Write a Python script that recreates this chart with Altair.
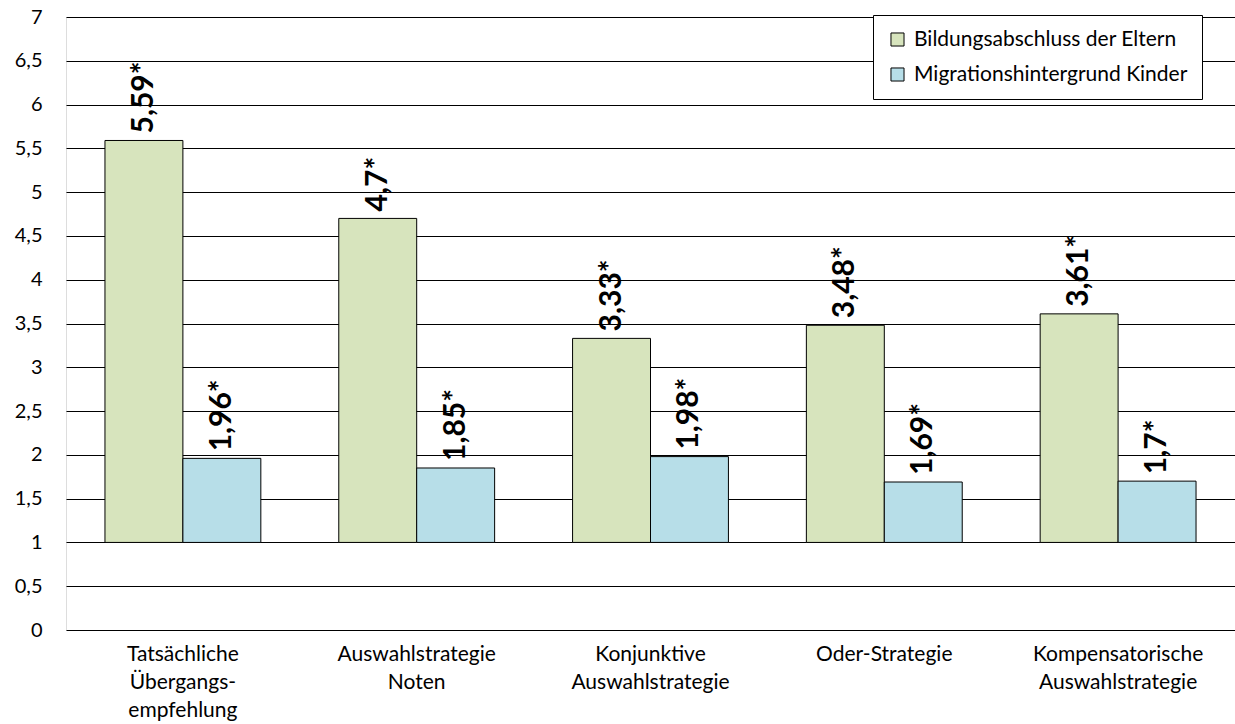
import altair as alt
import pandas as pd

# Categories (line breaks mark the wrapped axis labels)
categories = [
    "Tatsächliche\nÜbergangs-\nempfehlung",
    "Auswahlstrategie\nNoten",
    "Konjunktive\nAuswahlstrategie",
    "Oder-Strategie",
    "Kompensatorische\nAuswahlstrategie",
]
series = ["Bildungsabschluss der Eltern", "Migrationshintergrund Kinder"]
eltern = [5.59, 4.7, 3.33, 3.48, 3.61]
migration = [1.96, 1.85, 1.98, 1.69, 1.7]
baseline = 1
colors = ["#D7E4BD", "#B7DEE8"]
y_ticks = [0, 0.5, 1, 1.5, 2, 2.5, 3, 3.5, 4, 4.5, 5, 5.5, 6, 6.5, 7]

rows = []
for cat, a, b in zip(categories, eltern, migration):
    for s, v in zip(series, (a, b)):
        rows.append({
            "Kategorie": cat,
            "Reihe": s,
            "Wert": v,
            "Basis": baseline,
            "Label": f"{v}".replace(".", ",") + "*",
        })
df = pd.DataFrame(rows)

FONT = "Lato"

x = alt.X(
    "Kategorie:N",
    sort=categories,
    scale=alt.Scale(paddingInner=1 / 3, paddingOuter=1 / 6),
    axis=alt.Axis(
        title=None,
        labelAngle=0,
        labelExpr="split(datum.label, '\\n')",
        labelFont=FONT,
        labelFontSize=21,
        labelColor="black",
        labelLineHeight=28,
        labelPadding=13,
        labelBaseline="top",
        ticks=False,
        domain=False,
        grid=False,
    ),
)
xoff = alt.XOffset("Reihe:N", sort=series, scale=alt.Scale(paddingInner=0, paddingOuter=0))
y = alt.Y(
    "Wert:Q",
    scale=alt.Scale(domain=[0, 7], nice=False),
    axis=alt.Axis(
        title=None,
        values=y_ticks,
        labelExpr="replace(toString(datum.value), '.', ',')",
        labelFont=FONT,
        labelFontSize=20,
        labelColor="black",
        labelPadding=24,
        ticks=False,
        domain=False,
        grid=True,
        gridColor="black",
        gridWidth=1,
        gridOpacity=1,
    ),
)

bars = alt.Chart(df).mark_bar(stroke="black", strokeWidth=1).encode(
    x=x,
    xOffset=xoff,
    y=y,
    y2="Basis:Q",
    color=alt.Color(
        "Reihe:N",
        sort=series,
        scale=alt.Scale(domain=series, range=colors),
        legend=alt.Legend(
            title=None,
            orient="none",
            legendX=807,
            legendY=-2,
            fillColor="white",
            strokeColor="black",
            padding=14,
            rowPadding=13,
            symbolType="square",
            symbolSize=170,
            symbolStrokeColor="black",
            symbolStrokeWidth=1,
            labelOffset=6,
            labelFont=FONT,
            labelFontSize=21,
            labelColor="black",
            labelLimit=400,
        ),
    ),
)

labels = alt.Chart(df).mark_text(
    angle=270,
    align="left",
    baseline="middle",
    dx=7,
    font=FONT,
    fontSize=30,
    fontWeight="bold",
    color="black",
).encode(
    x=x,
    xOffset=xoff,
    y=alt.Y("Wert:Q"),
    text="Label:N",
)

chart = (
    alt.layer(bars, labels)
    .properties(
        width=1169,
        height=613,
        padding={"left": 66, "top": 17, "right": 0, "bottom": 94},
        autosize=alt.AutoSizeParams(type="none"),
    )
    .configure_view(stroke=None)
    .configure(background="white")
)

chart.save("out.html", embed_options={"renderer": "svg", "actions": False})
